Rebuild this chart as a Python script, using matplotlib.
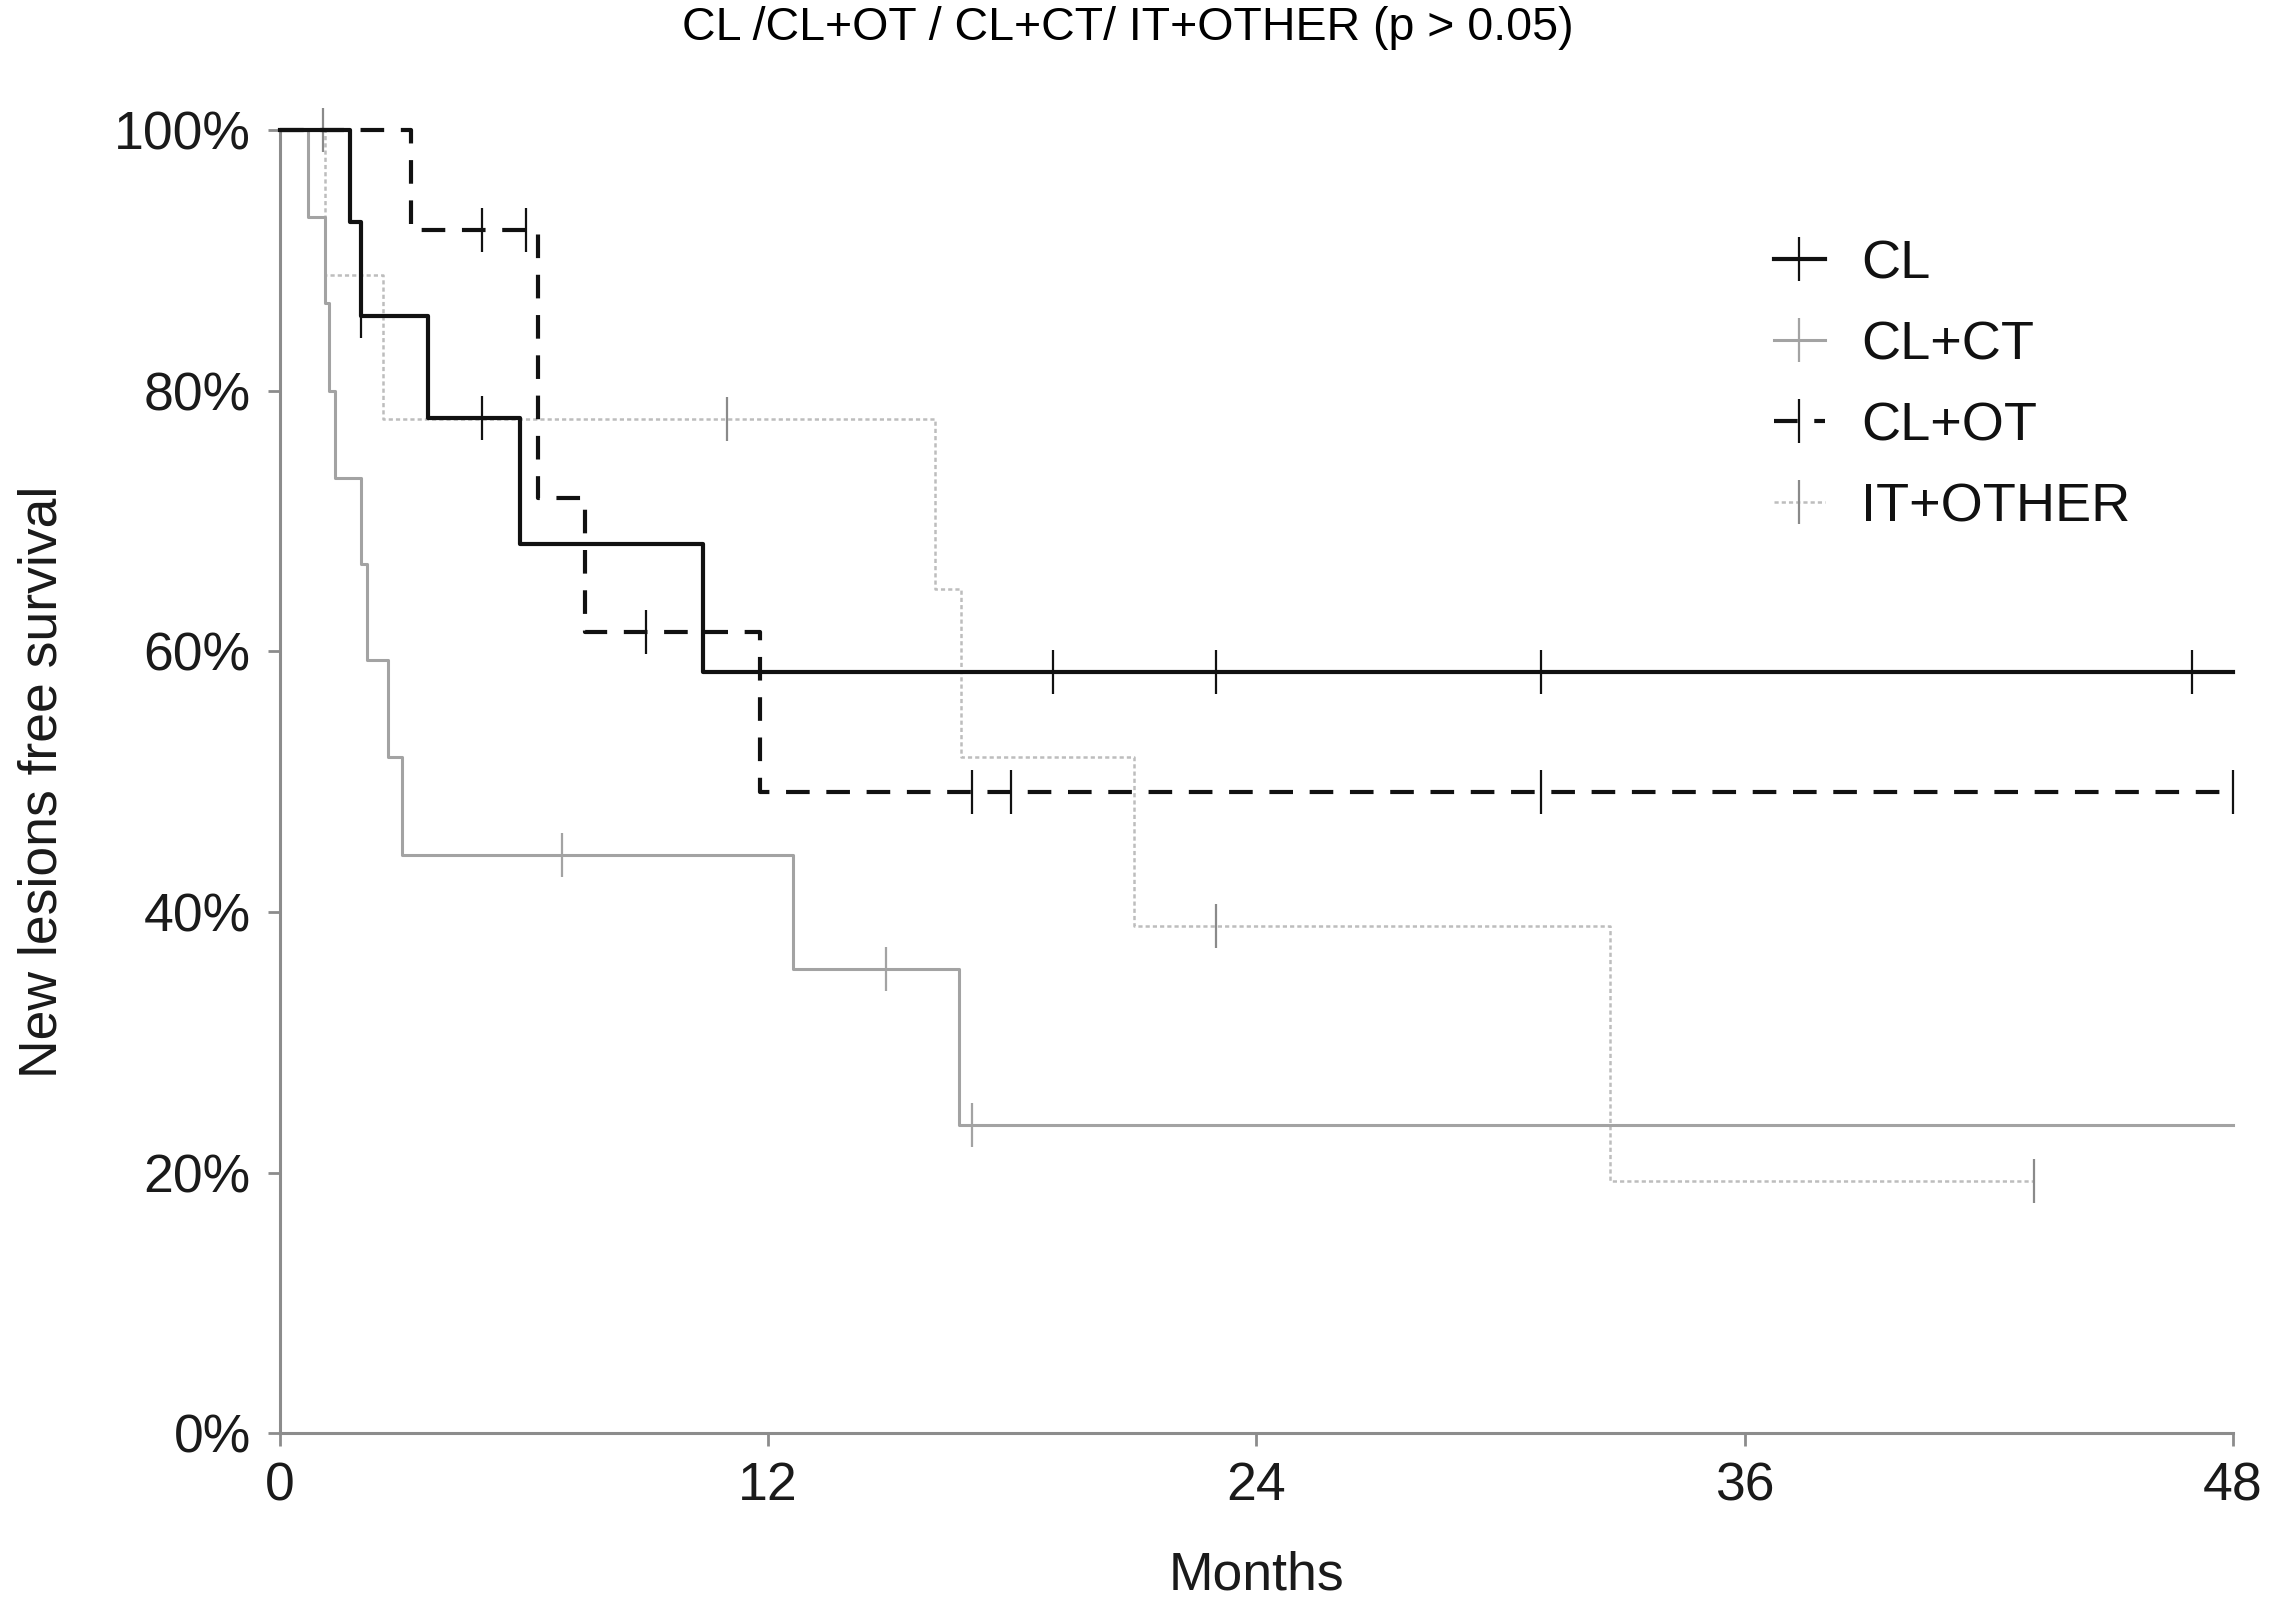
import numpy as np
import matplotlib
matplotlib.use("Agg")
import matplotlib.pyplot as plt
from matplotlib.lines import Line2D
from matplotlib.ticker import FuncFormatter

plt.rcParams['font.family'] = ['Liberation Sans', 'DejaVu Sans']
plt.rcParams['lines.scale_dashes'] = False

# --- data (months, % free of new lesions) ---
cl_t = [0, 1.72, 1.99, 3.64, 5.9, 10.4, 48]
cl_s = [100, 92.9, 85.7, 77.9, 68.2, 58.4, 58.4]
cl_cens = [2.0, 4.97, 19.0, 23.0, 31.0, 47.0]

clct_t = [0, 0.70, 1.10, 1.21, 1.35, 2.0, 2.13, 2.66, 3.0, 12.6, 16.7, 48]
clct_s = [100, 93.3, 86.7, 80.0, 73.3, 66.7, 59.3, 51.9, 44.4, 35.6, 23.7, 23.7]
clct_cens = [6.94, 14.9, 17.0]

clot_t = [0, 3.23, 6.35, 7.5, 11.8, 48]
clot_s = [100, 92.3, 71.8, 61.5, 49.2, 49.2]
clot_cens = [4.97, 6.04, 9.0, 17.0, 17.98, 31.0, 48.0]

it_t = [0, 1.1, 2.54, 16.1, 16.74, 21.0, 32.7, 43.1]
it_s = [100, 88.9, 77.8, 64.8, 51.9, 38.9, 19.4, 19.4]
it_cens = [1.05, 11.0, 23.0, 43.1]

labels = ['CL', 'CL+CT', 'CL+OT', 'IT+OTHER']
x_ticks = [0, 12, 24, 36, 48]
y_ticks = [0, 20, 40, 60, 80, 100]


def surv_at(t_steps, s_steps, t):
    idx = np.searchsorted(t_steps, t, side='right') - 1
    return np.asarray(s_steps)[idx]


styles = {
    'CL':       dict(color='#111111', lw=3.0, ls='-', mcol='#111111'),
    'CL+CT':    dict(color='#a3a3a3', lw=2.2, ls='-', mcol='#a3a3a3'),
    'CL+OT':    dict(color='#111111', lw=3.0, ls=(0, (17, 12)), mcol='#111111'),
    'IT+OTHER': dict(color='#bdbdbd', lw=1.8, ls=(0, (3, 2.2)), mcol='#8a8a8a'),
}
series = {
    'CL': (cl_t, cl_s, cl_cens),
    'CL+CT': (clct_t, clct_s, clct_cens),
    'CL+OT': (clot_t, clot_s, clot_cens),
    'IT+OTHER': (it_t, it_s, it_cens),
}
zorders = {'IT+OTHER': 2, 'CL+CT': 3, 'CL+OT': 4, 'CL': 5}

fig = plt.figure(figsize=(22.7, 16.04), dpi=100)
ax = fig.add_axes([0.1233, 0.1063, 0.8604, 0.8127])

handles = []
for name in labels:
    t, s, c = series[name]
    st = styles[name]
    ax.step(t, s, where='post', color=st['color'], lw=st['lw'], ls=st['ls'],
            clip_on=False, zorder=zorders[name])
    ax.plot(c, surv_at(t, s, c), ls='none', marker='|', ms=32, mew=1.6,
            color=st['mcol'], clip_on=False, zorder=zorders[name])
    handles.append(Line2D([0], [0], color=st['color'], lw=st['lw'], ls=st['ls'],
                          marker='|', ms=32, mew=1.6, mec=st['mcol']))

ax.set_xlim(0, 48)
ax.set_ylim(0, 100)
ax.set_xticks(x_ticks)
ax.set_yticks(y_ticks)
ax.yaxis.set_major_formatter(FuncFormatter(lambda v, p: f'{v:.0f}%'))

for side in ['top', 'right']:
    ax.spines[side].set_visible(False)
for side in ['left', 'bottom']:
    ax.spines[side].set_color('#8c8c8c')
    ax.spines[side].set_linewidth(2.2)

ax.tick_params(axis='both', direction='out', length=9, width=2, color='#8c8c8c',
               labelsize=38.5, labelcolor='#1a1a1a')
ax.tick_params(axis='y', pad=12)
ax.tick_params(axis='x', pad=11)

ax.set_xlabel('Months', fontsize=38.5, color='#1a1a1a', va='center')
ax.xaxis.set_label_coords(0.5, -0.109)
ax.set_ylabel('New lesions free survival', fontsize=38.5, color='#1a1a1a', va='center')
ax.yaxis.set_label_coords(-0.1214, 0.5)

leg = ax.legend(handles, labels, loc='upper left', bbox_to_anchor=(0.765, 0.916),
                frameon=False, fontsize=39, handlelength=0.94, handletextpad=0.67,
                labelspacing=0.57, borderpad=0, borderaxespad=0, numpoints=1)
for txt in leg.get_texts():
    txt.set_color('#111111')

fig.text(0.497, 1 - 40 / 1604, 'CL /CL+OT / CL+CT/ IT+OTHER (p > 0.05)',
         ha='center', va='baseline', fontsize=33.5, color='#000000')

fig.savefig('out.png', dpi=100, facecolor='white')
